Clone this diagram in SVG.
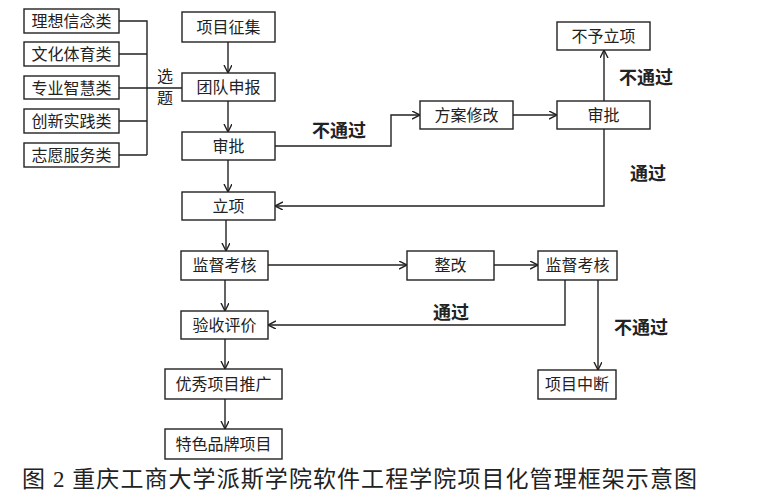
<svg xmlns="http://www.w3.org/2000/svg" width="766" height="496" viewBox="0 0 766 496">
<style>
.box{fill:#fff;stroke:#222;stroke-width:1.4}
.t{font-family:"Noto Sans CJK SC","Noto Sans",sans-serif;font-size:16px;fill:#222;text-anchor:middle}
.lbl{font-family:"Noto Sans CJK SC","Noto Sans",sans-serif;font-size:18px;font-weight:bold;fill:#222;text-anchor:middle}
.ln{fill:none;stroke:#222;stroke-width:1.4}
.cap{font-family:"Liberation Serif","Noto Sans CJK SC",serif;font-size:23px;fill:#222}
</style>
<defs>
<marker id="ah" markerUnits="userSpaceOnUse" markerWidth="10" markerHeight="10" refX="8" refY="4" orient="auto">
<path d="M0,0 L8,4 L0,8" fill="none" stroke="#222" stroke-width="1.4"/>
</marker>
</defs>
<rect width="766" height="496" fill="#fff"/>
<g id="connectors">
<path class="ln" d="M119 21 H147 V155 M119 54 H147 M119 121 H147 M119 155 H147 M119 88 H182"/>
<path class="ln" d="M228 42 V73" marker-end="url(#ah)"/>
<path class="ln" d="M228 101 V132" marker-end="url(#ah)"/>
<path class="ln" d="M228 160 V192" marker-end="url(#ah)"/>
<path class="ln" d="M226 220 V251" marker-end="url(#ah)"/>
<path class="ln" d="M225 280 V311" marker-end="url(#ah)"/>
<path class="ln" d="M225 339 V369" marker-end="url(#ah)"/>
<path class="ln" d="M225 399 V429" marker-end="url(#ah)"/>
<path class="ln" d="M275 146 H391 V115 H420" marker-end="url(#ah)"/>
<path class="ln" d="M513 115 H557" marker-end="url(#ah)"/>
<path class="ln" d="M604 101 V50" marker-end="url(#ah)"/>
<path class="ln" d="M604 129 V206 H275" marker-end="url(#ah)"/>
<path class="ln" d="M268 265 H407" marker-end="url(#ah)"/>
<path class="ln" d="M494 265 H538" marker-end="url(#ah)"/>
<path class="ln" d="M565 280 V325 H268" marker-end="url(#ah)"/>
<path class="ln" d="M598 280 V370" marker-end="url(#ah)"/>
</g>
<g id="c1"><rect class="box" x="24" y="9" width="95" height="24"/><text class="t" x="71.5" y="27">理想信念类</text></g>
<g id="c2"><rect class="box" x="24" y="42" width="95" height="24"/><text class="t" x="71.5" y="60">文化体育类</text></g>
<g id="c3"><rect class="box" x="24" y="76" width="95" height="23"/><text class="t" x="71.5" y="93.5">专业智慧类</text></g>
<g id="c4"><rect class="box" x="24" y="109" width="95" height="24"/><text class="t" x="71.5" y="127">创新实践类</text></g>
<g id="c5"><rect class="box" x="24" y="143" width="95" height="24"/><text class="t" x="71.5" y="161">志愿服务类</text></g>
<g id="xuanti"><text class="t" x="165" y="82">选</text><text class="t" x="165" y="104">题</text></g>
<g id="n1"><rect class="box" x="182" y="12" width="93" height="30"/><text class="t" x="228.5" y="33" font-size="17">项目征集</text></g>
<g id="n2"><rect class="box" x="182" y="73" width="93" height="28"/><text class="t" x="228.5" y="93" font-size="17">团队申报</text></g>
<g id="n3"><rect class="box" x="182" y="132" width="93" height="28"/><text class="t" x="228.5" y="152" font-size="17">审批</text></g>
<g id="n4"><rect class="box" x="182" y="192" width="93" height="28"/><text class="t" x="228.5" y="212">立项</text></g>
<g id="n5"><rect class="box" x="181" y="251" width="87" height="29"/><text class="t" x="224.5" y="271">监督考核</text></g>
<g id="n6"><rect class="box" x="181" y="311" width="87" height="28"/><text class="t" x="224.5" y="331">验收评价</text></g>
<g id="n7"><rect class="box" x="165" y="369" width="117" height="30"/><text class="t" x="223.5" y="390" font-size="17">优秀项目推广</text></g>
<g id="n8"><rect class="box" x="165" y="429" width="117" height="30"/><text class="t" x="223.5" y="450" font-size="17">特色品牌项目</text></g>
<g id="r1"><rect class="box" x="420" y="101" width="93" height="28"/><text class="t" x="466.5" y="121">方案修改</text></g>
<g id="r2"><rect class="box" x="557" y="101" width="93" height="28"/><text class="t" x="603.5" y="121">审批</text></g>
<g id="r3"><rect class="box" x="557" y="22" width="93" height="28"/><text class="t" x="603.5" y="42">不予立项</text></g>
<g id="r4"><rect class="box" x="407" y="251" width="87" height="29"/><text class="t" x="450.5" y="271">整改</text></g>
<g id="r5"><rect class="box" x="538" y="251" width="79" height="29"/><text class="t" x="577.5" y="271">监督考核</text></g>
<g id="r6"><rect class="box" x="538" y="370" width="78" height="29"/><text class="t" x="577" y="390">项目中断</text></g>
<g id="labels">
<text class="lbl" x="339" y="137">不通过</text>
<text class="lbl" x="646" y="84">不通过</text>
<text class="lbl" x="648" y="180">通过</text>
<text class="lbl" x="451" y="319">通过</text>
<text class="lbl" x="641" y="334">不通过</text>
</g>
<text class="cap" x="22" y="487" textLength="675">图 2 重庆工商大学派斯学院软件工程学院项目化管理框架示意图</text>
</svg>
